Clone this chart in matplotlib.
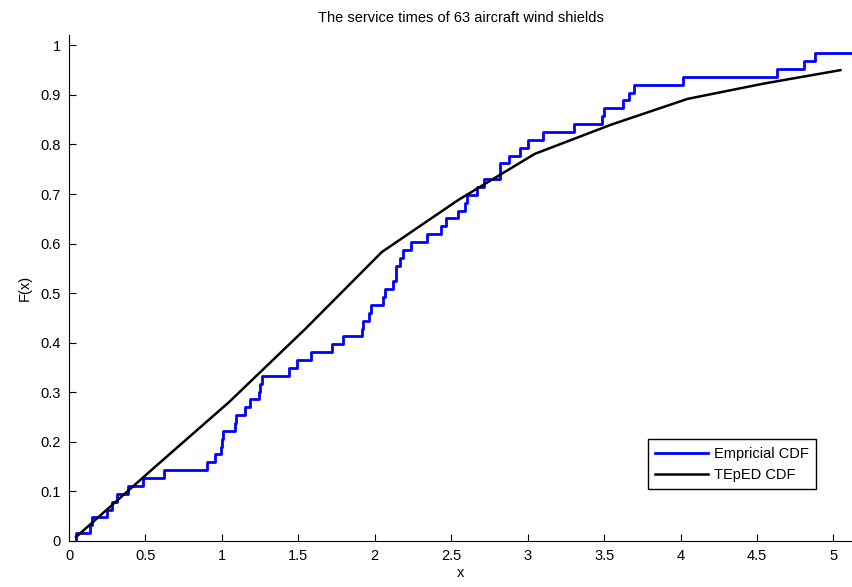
import numpy as np
import matplotlib
matplotlib.use('Agg')
import matplotlib.pyplot as plt

# service times of 63 aircraft wind shields
times = [0.046, 1.436, 2.592, 0.140, 1.492, 2.600, 0.150, 1.580, 2.670,
         0.248, 1.719, 2.717, 0.280, 1.794, 2.819, 0.313, 1.915, 2.820,
         0.389, 1.920, 2.878, 0.487, 1.963, 2.950, 0.622, 1.978, 3.003,
         0.900, 2.053, 3.102, 0.952, 2.065, 3.304, 0.996, 2.117, 3.483,
         1.003, 2.137, 3.500, 1.010, 2.141, 3.622, 1.085, 2.163, 3.665,
         1.092, 2.183, 3.695, 1.152, 2.240, 4.015, 1.183, 2.341, 4.628,
         1.244, 2.435, 4.806, 1.249, 2.464, 4.881, 1.262, 2.543, 5.140]

# fitted TEpED cdf, evaluated on a coarse grid
fit_x = [0.046, 0.546, 1.046, 1.546, 2.046, 2.546, 3.046, 3.546, 4.046, 4.546, 5.046]
fit_F = [0.008, 0.145, 0.280, 0.428, 0.583, 0.688, 0.781, 0.840, 0.892, 0.923, 0.950]

xticks = [0, 0.5, 1, 1.5, 2, 2.5, 3, 3.5, 4, 4.5, 5]
xtick_labels = ['0', '0.5', '1', '1.5', '2', '2.5', '3', '3.5', '4', '4.5', '5']
yticks = [0, 0.1, 0.2, 0.3, 0.4, 0.5, 0.6, 0.7, 0.8, 0.9, 1]
ytick_labels = ['0', '0.1', '0.2', '0.3', '0.4', '0.5', '0.6', '0.7', '0.8', '0.9', '1']

plt.rcParams['font.family'] = ['Liberation Sans', 'DejaVu Sans']
plt.rcParams['font.size'] = 10.5

d = np.sort(np.array(times))
n = len(d)
ex = np.concatenate(([d[0]], d))
ey = np.concatenate(([0.0], np.arange(1, n + 1) / n))

fig = plt.figure(figsize=(8.53, 5.87), dpi=100)
ax = fig.add_axes([0.0809, 0.0784, 0.9191, 0.8612])

ax.plot(ex, ey, color='#0000ff', lw=2.0, drawstyle='steps-post', label='Empricial CDF')
ax.plot(fit_x, fit_F, color='black', lw=1.8, label='TEpED CDF')

ax.set_xlim(0, 5.128)
ax.set_ylim(0, 1.02)
ax.set_xticks(xticks)
ax.set_xticklabels(xtick_labels)
ax.set_yticks(yticks)
ax.set_yticklabels(ytick_labels)
ax.tick_params(direction='in', length=5, width=0.8, colors='black', pad=6)
ax.spines['top'].set_visible(False)
ax.spines['right'].set_visible(False)

ax.set_title('The service times of 63 aircraft wind shields', fontsize=10.5, pad=10)
ax.set_xlabel('x', labelpad=2)
ax.set_ylabel('F(x)', labelpad=6)

leg = ax.legend(loc='lower right', bbox_to_anchor=(0.962, 0.088), fancybox=False,
                edgecolor='black', framealpha=1, handlelength=3.6, borderpad=0.5,
                labelspacing=0.5, handletextpad=0.4)
leg.get_frame().set_linewidth(1.0)

fig.savefig('out.png', dpi=100)
